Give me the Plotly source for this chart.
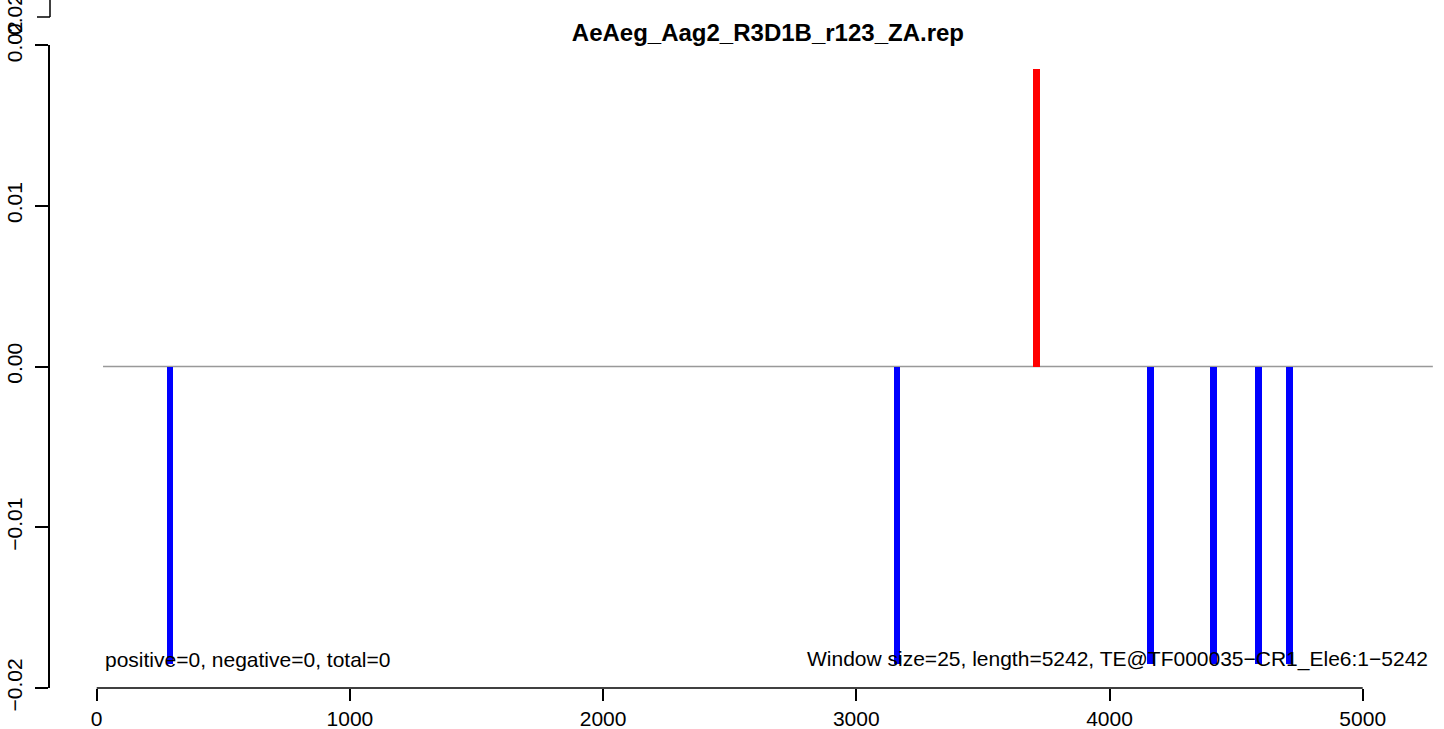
import plotly.graph_objects as go

# ---- data ----
positions = [290, 3161, 3712, 4161, 4410, 4588, 4710]
values = [-0.0185, -0.0185, 0.0185, -0.0185, -0.0185, -0.0185, -0.0185]
x_ticks = [0, 1000, 2000, 3000, 4000, 5000]
y_ticks = [-0.02, -0.01, 0.0, 0.01, 0.02]
y_tick_labels = ["\u22120.02", "\u22120.01", "0.00", "0.01", "0.02"]
title_text = "AeAeg_Aag2_R3D1B_r123_ZA.rep"
left_note = "positive=0, negative=0, total=0"
right_note = "Window size=25, length=5242, TE@TF000035\u2212CR1_Ele6:1\u22125242"
window_size = 25
zero_line_end = 5277

FONT = "Liberation Sans, Arial, Helvetica, sans-serif"
colors = ["#FF0000" if v > 0 else "#0000FF" for v in values]

fig = go.Figure()
fig.add_trace(go.Bar(x=positions, y=values, base=0, width=26,
                     marker=dict(color=colors, line=dict(width=0)),
                     showlegend=False))

# zero reference line
fig.add_shape(type="line", xref="x", yref="y", x0=window_size, x1=zero_line_end,
              y0=0, y1=0, line=dict(color="#999999", width=1.4), layer="below")
# x axis line (R style, only spanning tick range)
fig.add_shape(type="line", xref="x", yref="paper", x0=x_ticks[0], x1=x_ticks[-1],
              y0=0, y1=0, line=dict(color="black", width=1.5))
# fragment of upper panel's axis at the top-left
fig.add_shape(type="line", xref="paper", yref="paper", x0=0, x1=0,
              y0=(688 - 17) / 643, y1=(688 + 5) / 643,
              line=dict(color="black", width=1.5))
fig.add_shape(type="line", xref="paper", yref="paper", x0=-13 / 1394, x1=0,
              y0=(688 - 17) / 643, y1=(688 - 17) / 643,
              line=dict(color="black", width=1.5))
fig.add_annotation(xref="paper", yref="paper", x=-36 / 1394, y=(688 - 15) / 643,
                   text="0.02", textangle=-90, showarrow=False,
                   font=dict(family=FONT, size=21, color="black"),
                   xanchor="center", yanchor="middle")

fig.add_annotation(x=window_size, y=-0.0182, text=left_note, showarrow=False,
                   xanchor="left", yanchor="middle",
                   font=dict(family=FONT, size=21, color="black"))
fig.add_annotation(x=5266, y=-0.0182, text=right_note, showarrow=False,
                   xanchor="right", yanchor="middle",
                   font=dict(family=FONT, size=21, color="black"))

fig.update_layout(
    width=1444, height=729,
    margin=dict(l=50, r=0, t=45, b=41, autoexpand=False),
    plot_bgcolor="white", paper_bgcolor="white",
    title=dict(text="<b>" + title_text + "</b>", x=0.515, xref="paper",
               xanchor="center", y=1 - 33 / 729, yref="container", yanchor="middle",
               font=dict(family=FONT, size=24, color="black")),
    bargap=0,
    xaxis=dict(range=[(50 - 96.7) / 0.2532, (1444 - 96.7) / 0.2532],
               tickvals=x_ticks, ticktext=[str(t) for t in x_ticks],
               ticks="outside", ticklen=12, tickwidth=1.5, tickcolor="black",
               showline=False, showgrid=False, zeroline=False, automargin=False,
               tickfont=dict(family=FONT, size=21, color="black")),
    yaxis=dict(range=[-0.02, 0.02], tickvals=y_ticks, ticktext=y_tick_labels,
               ticks="outside", ticklen=13, tickwidth=1.5, tickcolor="black",
               showline=True, linecolor="black", linewidth=1.5, automargin=False,
               showgrid=False, zeroline=False, tickangle=-90, ticklabelstandoff=5,
               tickfont=dict(family=FONT, size=21, color="black")),
)

fig.write_html("out.html", config={"displayModeBar": False},
               post_script="document.body.style.margin='0';document.body.style.overflow='hidden';")
